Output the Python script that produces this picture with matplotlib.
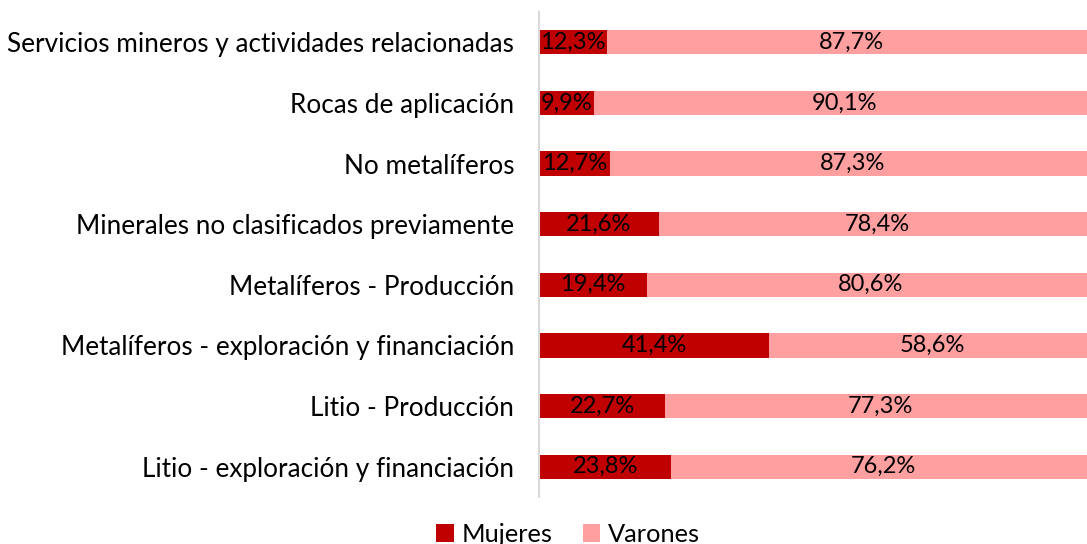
import matplotlib.pyplot as plt
import numpy as np

categorias = ["Litio - exploración y financiación", "Litio - Producción",
              "Metalíferos - exploración y financiación", "Metalíferos - Producción",
              "Minerales no clasificados previamente", "No metalíferos",
              "Rocas de aplicación", "Servicios mineros y actividades relacionadas"]
mujeres = [23.8, 22.7, 41.4, 19.4, 21.6, 12.7, 9.9, 12.3]
varones = [76.2, 77.3, 58.6, 80.6, 78.4, 87.3, 90.1, 87.7]

plt.rcParams['font.family'] = ['Lato', 'DejaVu Sans']

fig = plt.figure(figsize=(10.87, 5.44), dpi=100)
W, H = 1087, 544
ax = fig.add_axes([539 / W, 1 - 497 / H, (1095 - 539) / W, (497 - 12) / H])

y = np.arange(len(categorias))
ax.barh(y, mujeres, height=0.4, color="#C00000", label="Mujeres")
ax.barh(y, varones, left=mujeres, height=0.4, color="#FF9F9F", label="Varones")

for i in range(len(categorias)):
    ax.text(mujeres[i] / 2, y[i], f"{mujeres[i]:.1f}%".replace(".", ","),
            ha="center", va="center", fontsize=17)
    ax.text(mujeres[i] + varones[i] / 2, y[i], f"{varones[i]:.1f}%".replace(".", ","),
            ha="center", va="center", fontsize=17)

ax.set_xlim(0, 100)
ax.set_ylim(-0.5, len(categorias) - 0.5)
ax.set_yticks(y)
ax.set_yticklabels(categorias, fontsize=18.8)
ax.tick_params(axis="y", length=0, pad=18)
ax.set_xticks([])
for s in ["top", "right", "bottom"]:
    ax.spines[s].set_visible(False)
ax.spines["left"].set_color("#d9d9d9")
ax.spines["left"].set_linewidth(1.5)

fig.legend(loc="lower center", bbox_to_anchor=(568 / W, -0.045), ncol=2, frameon=False,
           fontsize=18.3, handlelength=0.7, handleheight=0.7, handletextpad=0.3,
           columnspacing=1.2)

fig.savefig("out.png", dpi=100)
